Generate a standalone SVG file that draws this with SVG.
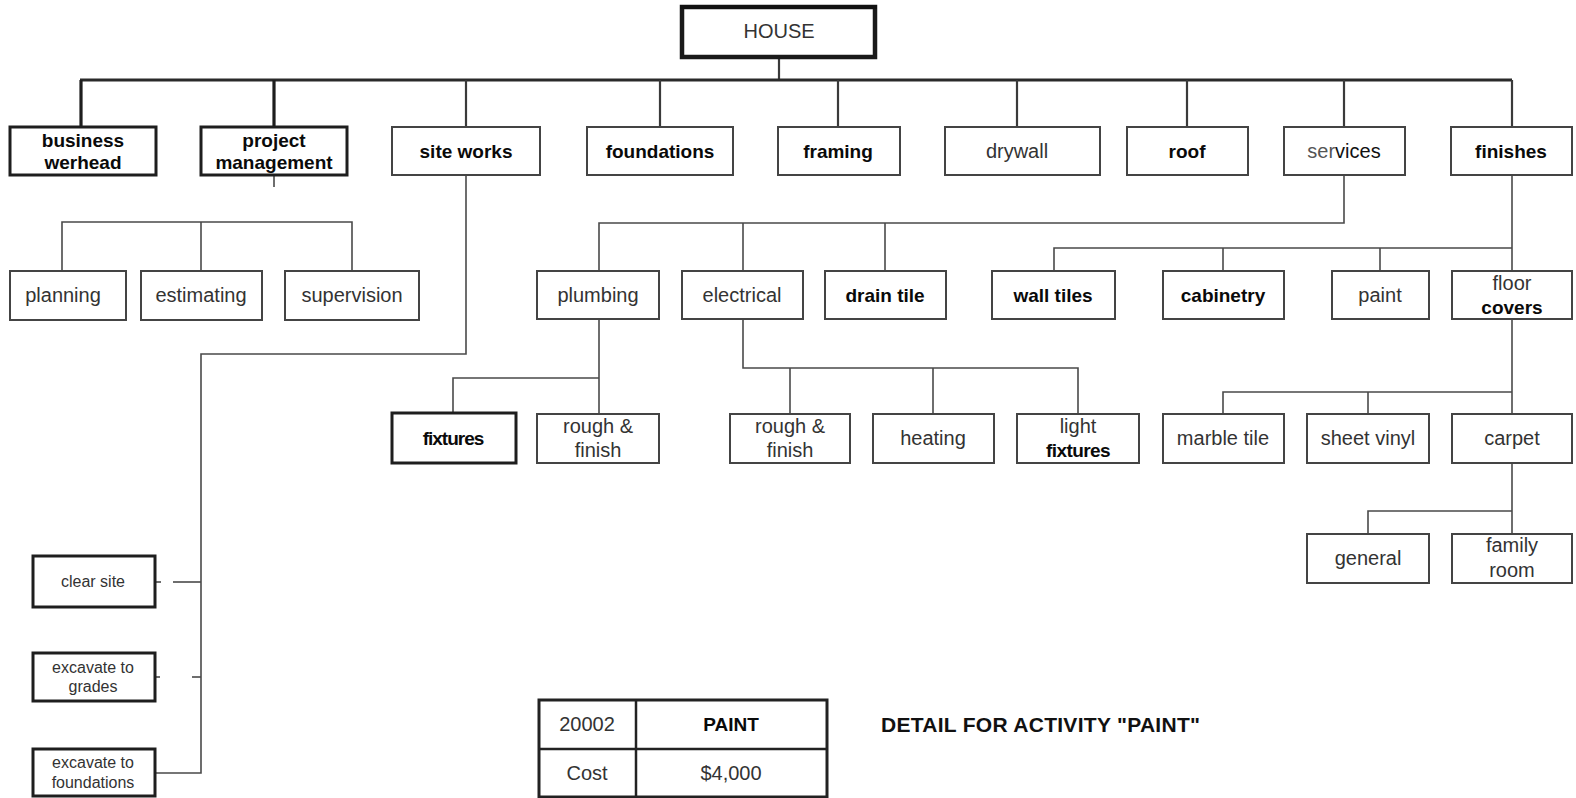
<svg xmlns="http://www.w3.org/2000/svg" width="1576" height="798" viewBox="0 0 1576 798">
  <style>
    .box { fill: #ffffff; stroke: #444; stroke-width: 2; }
    .heavy { fill: #ffffff; stroke: #1e1e1e; stroke-width: 3; }
    .root { fill: #ffffff; stroke: #1a1a1a; stroke-width: 4.5; }
    .lbl { font-family: "Liberation Sans", Arial, sans-serif; font-size: 20px; fill: #333; text-anchor: middle; }
    .bold { font-family: "Liberation Sans", Arial, sans-serif; font-size: 19px; font-weight: bold; fill: #0a0a0a; text-anchor: middle; }
    .small { font-family: "Liberation Sans", Arial, sans-serif; font-size: 16px; fill: #333; text-anchor: middle; }
    .ln { stroke: #4a4a4a; stroke-width: 1.6; fill: none; }
    .main { stroke: #2a2a2a; stroke-width: 3; fill: none; }
    .drop { stroke: #3a3a3a; stroke-width: 2.2; fill: none; }
    .dropb { stroke: #1e1e1e; stroke-width: 3.2; fill: none; }
  </style>

  <!-- connectors -->
  <g id="connectors">
    <!-- house to top level -->
    <line class="drop" x1="779" y1="57" x2="779" y2="80"/>
    <line class="main" x1="80" y1="80" x2="1512" y2="80"/>
    <line class="dropb" x1="81" y1="80" x2="81" y2="127"/>
    <line class="dropb" x1="274" y1="80" x2="274" y2="127"/>
    <line class="drop" x1="466" y1="80" x2="466" y2="127"/>
    <line class="drop" x1="660" y1="80" x2="660" y2="127"/>
    <line class="drop" x1="838" y1="80" x2="838" y2="127"/>
    <line class="drop" x1="1017" y1="80" x2="1017" y2="127"/>
    <line class="drop" x1="1187" y1="80" x2="1187" y2="127"/>
    <line class="drop" x1="1344" y1="80" x2="1344" y2="127"/>
    <line class="drop" x1="1512" y1="80" x2="1512" y2="127"/>

    <!-- project management -->
    <line class="ln" x1="274" y1="175" x2="274" y2="187"/>
    <polyline class="ln" points="62,271 62,222 352,222 352,271"/>
    <line class="ln" x1="201" y1="222" x2="201" y2="271"/>

    <!-- site works -->
    <polyline class="ln" points="466,175 466,354 201,354 201,773 155,773"/>
    <line class="ln" x1="155" y1="582" x2="161" y2="582"/>
    <line class="ln" x1="173" y1="582" x2="201" y2="582"/>
    <line class="ln" x1="155" y1="677" x2="160" y2="677"/>
    <line class="ln" x1="192" y1="677" x2="201" y2="677"/>

    <!-- services -->
    <polyline class="ln" points="1344,175 1344,223 599,223 599,271"/>
    <line class="ln" x1="743" y1="223" x2="743" y2="271"/>
    <line class="ln" x1="885" y1="223" x2="885" y2="271"/>

    <!-- plumbing -->
    <line class="ln" x1="599" y1="319" x2="599" y2="414"/>
    <polyline class="ln" points="599,378 453,378 453,413"/>

    <!-- electrical -->
    <polyline class="ln" points="743,319 743,368 1078,368 1078,414"/>
    <line class="ln" x1="790" y1="368" x2="790" y2="414"/>
    <line class="ln" x1="933" y1="368" x2="933" y2="414"/>

    <!-- finishes -->
    <line class="ln" x1="1512" y1="175" x2="1512" y2="271"/>
    <polyline class="ln" points="1054,271 1054,248 1512,248"/>
    <line class="ln" x1="1223" y1="248" x2="1223" y2="271"/>
    <line class="ln" x1="1380" y1="248" x2="1380" y2="271"/>

    <!-- floor covers -->
    <line class="ln" x1="1512" y1="319" x2="1512" y2="414"/>
    <polyline class="ln" points="1223,414 1223,392 1512,392"/>
    <line class="ln" x1="1368" y1="392" x2="1368" y2="414"/>

    <!-- carpet -->
    <line class="ln" x1="1512" y1="463" x2="1512" y2="534"/>
    <polyline class="ln" points="1368,534 1368,511 1512,511"/>
  </g>

  <!-- root -->
  <g id="house">
    <rect class="root" x="682" y="7" width="193" height="50"/>
    <line x1="680" y1="7" x2="877" y2="7" stroke="#111" stroke-width="4"/>
    <text class="lbl" x="779" y="38">HOUSE</text>
  </g>

  <!-- top level -->
  <g id="business-overhead">
    <rect class="heavy" x="10" y="127" width="146" height="48"/>
    <text class="bold" x="83" y="147">business</text>
    <text class="bold" x="83" y="169">werhead</text>
  </g>
  <g id="project-management">
    <rect class="heavy" x="201" y="127" width="146" height="48"/>
    <text class="bold" x="274" y="147">project</text>
    <text class="bold" x="274" y="169">management</text>
  </g>
  <g id="site-works">
    <rect class="box" x="392" y="127" width="148" height="48"/>
    <text class="bold" x="466" y="158">site works</text>
  </g>
  <g id="foundations">
    <rect class="box" x="587" y="127" width="146" height="48"/>
    <text class="bold" x="660" y="158">foundations</text>
  </g>
  <g id="framing">
    <rect class="box" x="778" y="127" width="122" height="48"/>
    <text class="bold" x="838" y="158">framing</text>
  </g>
  <g id="drywall">
    <rect class="box" x="945" y="127" width="155" height="48"/>
    <text class="lbl" x="1017" y="158">drywall</text>
  </g>
  <g id="roof">
    <rect class="box" x="1127" y="127" width="121" height="48"/>
    <text class="bold" x="1187" y="158">roof</text>
  </g>
  <g id="services">
    <rect class="box" x="1284" y="127" width="121" height="48"/>
    <text class="lbl" x="1344" y="158"><tspan fill="#555">ser</tspan><tspan fill="#111">vices</tspan></text>
  </g>
  <g id="finishes">
    <rect class="box" x="1451" y="127" width="121" height="48"/>
    <text class="bold" x="1511" y="158">finishes</text>
  </g>

  <!-- project management children -->
  <g id="planning">
    <rect class="box" x="10" y="271" width="116" height="49"/>
    <text class="lbl" x="63" y="302">planning</text>
  </g>
  <g id="estimating">
    <rect class="box" x="141" y="271" width="121" height="49"/>
    <text class="lbl" x="201" y="302">estimating</text>
  </g>
  <g id="supervision">
    <rect class="box" x="285" y="271" width="134" height="49"/>
    <text class="lbl" x="352" y="302">supervision</text>
  </g>

  <!-- services children -->
  <g id="plumbing">
    <rect class="box" x="537" y="271" width="122" height="48"/>
    <text class="lbl" x="598" y="302">plumbing</text>
  </g>
  <g id="electrical">
    <rect class="box" x="682" y="271" width="121" height="48"/>
    <text class="lbl" x="742" y="302">electrical</text>
  </g>
  <g id="drain-tile">
    <rect class="box" x="825" y="271" width="121" height="48"/>
    <text class="bold" x="885" y="302">drain tile</text>
  </g>

  <!-- finishes children -->
  <g id="wall-tiles">
    <rect class="box" x="992" y="271" width="123" height="48"/>
    <text class="bold" x="1053" y="302">wall tiles</text>
  </g>
  <g id="cabinetry">
    <rect class="box" x="1163" y="271" width="121" height="48"/>
    <text class="bold" x="1223" y="302">cabinetry</text>
  </g>
  <g id="paint">
    <rect class="box" x="1332" y="271" width="97" height="48"/>
    <text class="lbl" x="1380" y="302">paint</text>
  </g>
  <g id="floor-covers">
    <rect class="box" x="1452" y="271" width="120" height="48"/>
    <text class="lbl" x="1512" y="290">floor</text>
    <text class="bold" x="1512" y="314">covers</text>
  </g>

  <!-- plumbing children -->
  <g id="fixtures">
    <rect class="heavy" x="392" y="413" width="124" height="50"/>
    <text class="bold" x="453" y="445" letter-spacing="-1">fixtures</text>
  </g>
  <g id="plumbing-rough-finish">
    <rect class="box" x="537" y="414" width="122" height="49"/>
    <text class="lbl" x="598" y="433">rough &amp;</text>
    <text class="lbl" x="598" y="457">finish</text>
  </g>

  <!-- electrical children -->
  <g id="electrical-rough-finish">
    <rect class="box" x="730" y="414" width="120" height="49"/>
    <text class="lbl" x="790" y="433">rough &amp;</text>
    <text class="lbl" x="790" y="457">finish</text>
  </g>
  <g id="heating">
    <rect class="box" x="873" y="414" width="121" height="49"/>
    <text class="lbl" x="933" y="445">heating</text>
  </g>
  <g id="light-fixtures">
    <rect class="box" x="1017" y="414" width="122" height="49"/>
    <text class="lbl" x="1078" y="433">light</text>
    <text class="bold" x="1078" y="457" letter-spacing="-0.6">fixtures</text>
  </g>

  <!-- floor covers children -->
  <g id="marble-tile">
    <rect class="box" x="1163" y="414" width="121" height="49"/>
    <text class="lbl" x="1223" y="445">marble tile</text>
  </g>
  <g id="sheet-vinyl">
    <rect class="box" x="1307" y="414" width="122" height="49"/>
    <text class="lbl" x="1368" y="445">sheet vinyl</text>
  </g>
  <g id="carpet">
    <rect class="box" x="1452" y="414" width="120" height="49"/>
    <text class="lbl" x="1512" y="445">carpet</text>
  </g>

  <!-- carpet children -->
  <g id="general">
    <rect class="box" x="1307" y="534" width="122" height="49"/>
    <text class="lbl" x="1368" y="565">general</text>
  </g>
  <g id="family-room">
    <rect class="box" x="1452" y="534" width="120" height="49"/>
    <text class="lbl" x="1512" y="552">family</text>
    <text class="lbl" x="1512" y="577">room</text>
  </g>

  <!-- site works children -->
  <g id="clear-site">
    <rect class="heavy" x="33" y="556" width="122" height="51"/>
    <text class="small" x="93" y="587">clear site</text>
  </g>
  <g id="excavate-grades">
    <rect class="heavy" x="33" y="653" width="122" height="48"/>
    <text class="small" x="93" y="673">excavate to</text>
    <text class="small" x="93" y="692">grades</text>
  </g>
  <g id="excavate-foundations">
    <rect class="heavy" x="33" y="749" width="122" height="47"/>
    <text class="small" x="93" y="768">excavate to</text>
    <text class="small" x="93" y="788">foundations</text>
  </g>

  <!-- activity detail card -->
  <g id="paint-detail">
    <rect x="539" y="700" width="288" height="97" fill="#ffffff" stroke="#222" stroke-width="3"/>
    <line x1="636" y1="700" x2="636" y2="797" stroke="#222" stroke-width="2.5"/>
    <line x1="539" y1="749" x2="827" y2="749" stroke="#222" stroke-width="2.5"/>
    <text class="lbl" x="587" y="731" fill="#222">20002</text>
    <text class="bold" x="731" y="731" font-size="20">PAINT</text>
    <text class="lbl" x="587" y="780">Cost</text>
    <text class="lbl" x="731" y="780">$4,000</text>
  </g>
  <g id="detail-caption">
    <text x="881" y="732" font-family="Liberation Sans, Arial, sans-serif" font-size="21" font-weight="bold" fill="#111" textLength="319" lengthAdjust="spacing">DETAIL FOR ACTIVITY "PAINT"</text>
  </g>
</svg>
